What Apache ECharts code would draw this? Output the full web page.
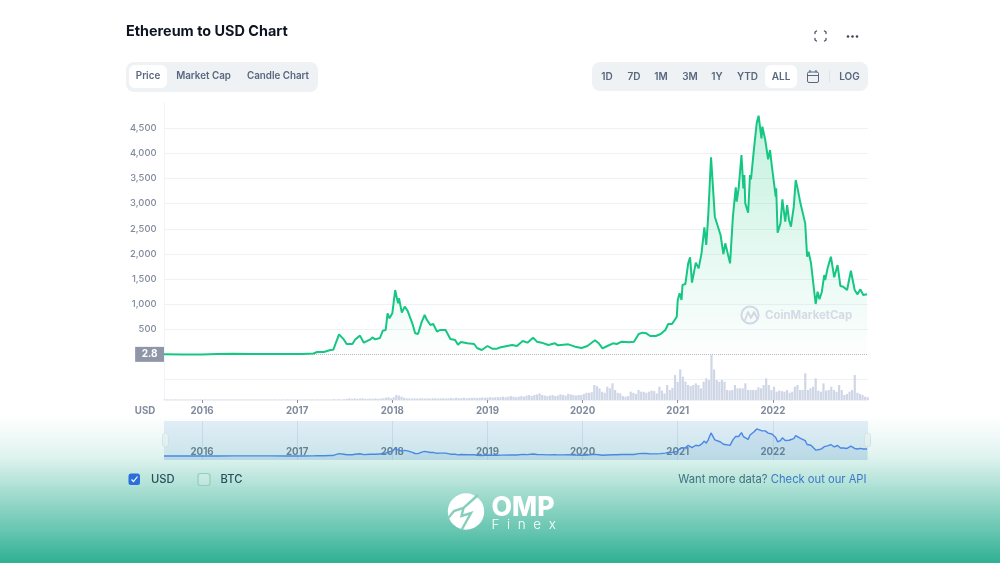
<!DOCTYPE html>
<html>
<head>
<meta charset="utf-8">
<title>Ethereum to USD Chart</title>
<script src="https://cdn.jsdelivr.net/npm/echarts@6/dist/echarts.min.js"></script>
<style>
  html,body{margin:0;padding:0;background:#fff}
  #container{width:1000px;height:563px}
</style>
</head>
<body>
<div id="container"></div>
<script>
// time is kept as decimal years
var yearTicks=[2016,2017,2018,2019,2020,2021,2022];
var priceTicks=[500,1000,1500,2000,2500,3000,3500,4000,4500];
var volumeGridTicks=[38];
var priceTimes=[
    2015.60,2015.80,2016.00,2016.16,2016.33,2016.50,2016.72,2016.90,2017.05,2017.17,
    2017.21,2017.28,2017.35,2017.38,2017.44,2017.49,2017.52,2017.58,2017.61,2017.66,
    2017.70,2017.77,2017.79,2017.82,2017.87,2017.90,2017.93,2017.95,2017.97,2018.00,
    2018.03,2018.06,2018.07,2018.10,2018.13,2018.16,2018.21,2018.24,2018.27,2018.31,
    2018.34,2018.36,2018.40,2018.43,2018.47,2018.50,2018.56,2018.61,2018.66,2018.69,
    2018.72,2018.79,2018.86,2018.89,2018.94,2019.00,2019.05,2019.10,2019.14,2019.26,
    2019.31,2019.37,2019.42,2019.48,2019.52,2019.57,2019.64,2019.71,2019.74,2019.80,
    2019.85,2019.92,2019.99,2020.05,2020.13,2020.17,2020.21,2020.26,2020.32,2020.36,
    2020.41,2020.49,2020.54,2020.59,2020.63,2020.67,2020.71,2020.77,2020.82,2020.87,
    2020.90,2020.94,2020.99,2021.00,2021.02,2021.04,2021.05,2021.08,2021.11,2021.13,
    2021.15,2021.19,2021.22,2021.25,2021.26,2021.28,2021.30,2021.32,2021.35,2021.36,
    2021.39,2021.41,2021.45,2021.48,2021.50,2021.55,2021.58,2021.61,2021.62,2021.64,
    2021.67,2021.69,2021.70,2021.71,2021.74,2021.76,2021.77,2021.80,2021.83,2021.85,
    2021.88,2021.89,2021.92,2021.95,2021.97,2021.99,2022.03,2022.035,2022.05,2022.08,
    2022.10,2022.13,2022.15,2022.17,2022.19,2022.22,2022.24,2022.26,2022.29,2022.31,
    2022.34,2022.36,2022.375,2022.40,2022.42,2022.45,2022.47,2022.49,2022.515,2022.54,
    2022.55,2022.575,2022.59,2022.61,2022.645,2022.68,2022.71,2022.74,2022.78,2022.82,
    2022.86,2022.89,2022.92,2022.95,2022.99
];
var priceValues=[
    2.8,1,1,11,15,12,12,8,10,20,
    50,50,90,95,400,300,210,210,300,375,
    235,300,340,300,328,474,487,818,719,818,
    1282,1017,1117,832,951,872,620,421,408,653,
    785,699,587,606,454,487,487,308,288,195,
    249,222,209,129,90,169,116,116,143,189,
    169,268,235,335,255,235,189,222,182,196,
    202,156,129,169,282,222,123,169,222,209,
    255,242,255,408,434,421,368,368,407,487,
    606,606,752,1083,1216,1083,1381,1401,1812,1932,
    1428,1826,1713,2011,2044,2528,2177,2740,3920,3635,
    2740,2727,2376,1998,2210,1812,2740,3323,3038,3303,
    3966,3303,3568,3005,2820,3568,3482,4065,4596,4748,
    4297,4529,4264,3880,4065,3734,3138,3303,2422,2607,
    3085,2641,2972,2674,2541,2939,3469,3303,3005,2972,
    2607,1945,2044,1826,1865,1004,1249,1097,1249,1580,
    1481,1713,1680,1945,1534,1779,1362,1348,1282,1666,
    1282,1196,1295,1183,1196
];
// one bar every ten days, billions of USD
var volumeStart=2015.605;
var volumeStep=0.02738;
var volumeValues=[
    1,1,1,1,1,1,1,1,1,1, 1,1,1,1,1,1,1,1,1,1,
    1,1,1,1,1,1,1,1,1,1, 1,1,1,1,1,1,1,1,1,1,
    1,1,1,1,1,1,1,1,1,1, 1,1,1,1,1,1,1,1,1,1,
    1,1,1,1,1,1.5,1,1.5,1,1.5,
    2,3,2,3,2,2.5,3,2,2,2.5,2,3,2,2.5,3,4,5,
    3,5,9,8,6,4,
    3,3,2.5,3,2.5,3,3,2.5,3,2.5,3,3,2.5,3,3,2.5,
    3,3.5,3,4,3,3.5,4,3,3.5,4,4,3.5,4,4.5,4,4.5,5,4.5,5,5,
    5,6,5,6,7,6,5,6,
    7,6,8,9,7,9,10,12,9,8,7,
    8,9,7,8,10,9,8,11,10,9,8,9,9,
    11,13,13,14,27,25,21,15,13,24,21,30,18,13,12,
    7,6,7,15,13,11,18,15,15,13,15,17,16,12,24,17,12,27,18,22,
    45,33,55,42,33,27,25,27,30,27,21,33,39,36,
    81,
    55,36,33,36,33,18,17,18,27,21,
    21,21,30,18,18,18,18,23,21,27,
    39,27,18,24,15,17,16,15,18,13,
    15,24,27,18,18,48,18,21,24,39,
    17,15,30,17,18,24,18,15,27,18,
    9,11,15,18,45,13,11,9,6,5
];

var priceData=[];
for(var i=0;i<priceTimes.length;i++)
    priceData.push([priceTimes[i],priceValues[i]]);
var volumeData=[];
for(var j=0;j<volumeValues.length;j++)
    volumeData.push([volumeStart+j*volumeStep,volumeValues[j]]);

var textFont='Inter';
var grey='#808a9d';
var slate='#58667e';
var pillBg='#eff2f5';

function Label(text,x,y,size,weight,color,align)
{
    return {type:'text',x:x,y:y,z:20,style:{text:text,font:weight+' '+size+'px '+textFont,fill:color,align:align||'center',verticalAlign:'middle'}};
}
function Box(x,y,w,h,r,fill,stroke)
{
    return {type:'rect',z:19,shape:{x:x,y:y,width:w,height:h,r:r},style:{fill:fill,stroke:stroke||null}};
}
function Path(points,color,width)
{
    return {type:'polyline',z:20,shape:{points:points},style:{stroke:color,lineWidth:width,fill:null,lineCap:'round',lineJoin:'round'}};
}

var graphics=[
    // toolbar left
    Label('Ethereum to USD Chart',126,32,14.4,700,'#0d1421','left'),
    Box(126,62,192,30,8,pillBg),
    Box(129,65,38,23,6,'#fff'),
    Label('Price',148,76.5,9.8,600,slate),
    Label('Market Cap',203.5,76.5,9.8,600,slate),
    Label('Candle Chart',278,76.5,9.8,600,slate),
    // toolbar right
    Box(592,62,276,29,8,pillBg),
    Box(765,65,32,23,6,'#fff'),
    Label('1D',607,77,10,600,slate),
    Label('7D',634,77,10,600,slate),
    Label('1M',661,77,10,600,slate),
    Label('3M',690,77,10,600,slate),
    Label('1Y',717,77,10,600,slate),
    Label('YTD',747.5,77,10,600,slate),
    Label('ALL',781,77,10,600,slate),
    Label('LOG',849.5,77,10,600,slate),
    Box(807.5,72,11,10.5,1.5,null,slate),
    Path([[807.5,75.5],[818.5,75.5]],slate,1.2),
    Path([[810,70.5],[810,72]],slate,1.2),
    Path([[816,70.5],[816,72]],slate,1.2),
    Path([[829.5,71],[829.5,82]],'#dfe3ea',1),
    // fullscreen and menu icons
    Path([[815,33.5],[815,32],[816.5,31]],'#4a5568',1.3),
    Path([[824.5,31],[826,32],[826,33.5]],'#4a5568',1.3),
    Path([[815,38.5],[815,40],[816.5,41]],'#4a5568',1.3),
    Path([[824.5,41],[826,40],[826,38.5]],'#4a5568',1.3),
    {type:'circle',z:20,shape:{cx:848,cy:36.5,r:1.3},style:{fill:'#3c4657'}},
    {type:'circle',z:20,shape:{cx:852.5,cy:36.5,r:1.3},style:{fill:'#3c4657'}},
    {type:'circle',z:20,shape:{cx:857,cy:36.5,r:1.3},style:{fill:'#3c4657'}},
    // watermark
    {type:'circle',z:20,shape:{cx:750,cy:315,r:8.6},style:{fill:null,stroke:'#d2d8e4',lineWidth:2}},
    Path([[745,320],[748,312],[751,318],[754,312],[757,318]],'#d2d8e4',1.8),
    Label('CoinMarketCap',765,316,11.4,700,'#d5dae5','left'),
    Label('USD',145,411,9.7,700,grey),
    // navigator handles
    Box(162.5,433,6,14,3,'#f4f6f9','#e3e7ee'),
    Box(864.5,433,6,14,3,'#f4f6f9','#e3e7ee'),
    // green wash over the bottom
    {type:'rect',z:30,shape:{x:0,y:415,width:1000,height:148},style:{fill:new echarts.graphic.LinearGradient(0,0,0,1,[
        {offset:0,color:'rgba(46,176,147,0)'},
        {offset:0.27,color:'rgba(46,176,147,0.14)'},
        {offset:0.37,color:'rgba(46,176,147,0.25)'},
        {offset:0.57,color:'rgba(46,176,147,0.49)'},
        {offset:0.8,color:'rgba(46,176,147,0.75)'},
        {offset:1,color:'rgba(46,176,147,1)'}
    ])}},
    // legend row
    {type:'rect',z:31,shape:{x:128.5,y:473.5,width:11.5,height:11.5,r:2.5},style:{fill:'#2a6fdb'}},
    {type:'polyline',z:32,shape:{points:[[131.5,479.5],[133.5,481.5],[137.5,476.5]]},style:{stroke:'#fff',lineWidth:1.2,fill:null}},
    {type:'rect',z:31,shape:{x:198,y:473.5,width:12,height:12,r:2.5},style:{fill:'rgba(255,255,255,0.15)',stroke:'#93cdbd',lineWidth:1.2}},
    {type:'text',z:31,x:151,y:479.5,style:{text:'USD',font:'500 11.2px '+textFont,fill:'#274f5c',align:'left',verticalAlign:'middle'}},
    {type:'text',z:31,x:220.5,y:479.5,style:{text:'BTC',font:'500 11.2px '+textFont,fill:'#274f5c',align:'left',verticalAlign:'middle'}},
    {type:'text',z:31,x:767.5,y:479.5,style:{text:'Want more data?',font:'400 11.2px '+textFont,fill:'#3f7280',align:'right',verticalAlign:'middle'}},
    {type:'text',z:31,x:866.5,y:479.5,style:{text:'Check out our API',font:'400 11.2px '+textFont,fill:'#3a78c9',align:'right',verticalAlign:'middle'}},
    // logo
    {type:'circle',z:31,shape:{cx:466,cy:511.5,r:18.2},style:{fill:'#fff'}},
    {type:'polyline',z:32,shape:{points:[[478,495],[463.5,508],[454,511],[447.5,519]]},style:{stroke:'#86cfba',lineWidth:2.4,fill:null}},
    {type:'polyline',z:32,shape:{points:[[463.5,508],[461.5,516],[471,513],[461.5,530]]},style:{stroke:'#86cfba',lineWidth:2.4,fill:null}},
    {type:'text',z:31,x:491.5,y:507.5,style:{text:'OMP',font:'800 26.6px '+textFont,fill:'#fff',align:'left',verticalAlign:'middle'}},
    {type:'text',z:31,x:491.5,y:525,style:{text:'F  i  n  e  x',font:'300 13.5px '+textFont,fill:'#fff',align:'left',verticalAlign:'middle'}}
];

var myChart=echarts.init(document.getElementById('container'));
myChart.setOption({
    animation:false,
    textStyle:{fontFamily:textFont},
    graphic:graphics,
    grid:[
        {left:164,right:132,top:103,height:251.5},
        {left:164,right:132,top:354.5,height:45.5},
        {left:164,right:132,top:421,height:39,show:true,backgroundColor:'#e5eef9',borderWidth:0}
    ],
    xAxis:[
        {
            gridIndex:0,type:'value',min:2015.6,max:2023,
            axisLine:{show:false},axisTick:{show:false},axisLabel:{show:false},splitLine:{show:false}
        },
        {
            gridIndex:1,type:'value',min:2015.6,max:2023,
            axisLine:{lineStyle:{color:'#eef0f4'}},
            axisTick:{length:3,lineStyle:{color:'#8a93a5'},customValues:yearTicks},
            axisLabel:{customValues:yearTicks,formatter:function(v){return String(v);},color:grey,fontSize:9.7,fontWeight:700,margin:6.5},
            splitLine:{show:false}
        },
        {
            gridIndex:2,type:'value',min:2015.6,max:2023,
            axisLine:{show:false},axisTick:{show:false,customValues:yearTicks},
            axisLabel:{inside:true,customValues:yearTicks,formatter:function(v){return String(v);},color:'#6f7b90',fontSize:9.7,fontWeight:700,margin:3},
            splitLine:{show:true,lineStyle:{color:'rgba(140,160,185,0.22)'}}
        }
    ],
    yAxis:[
        {
            gridIndex:0,type:'value',min:0,max:5000,
            axisLine:{show:true,lineStyle:{color:'#f1f3f6'}},axisTick:{show:false,customValues:priceTicks},
            axisLabel:{customValues:priceTicks,color:grey,fontSize:9.4,fontWeight:500,margin:7.5},
            splitLine:{show:true,lineStyle:{color:'#eff2f5'}}
        },
        {
            gridIndex:1,type:'value',min:0,max:82,
            axisLine:{show:true,lineStyle:{color:'#f1f3f6'}},axisTick:{show:false,customValues:volumeGridTicks},
            axisLabel:{show:false},
            splitLine:{show:true,lineStyle:{color:'#eff2f5'}}
        },
        {
            gridIndex:2,type:'value',min:-680,max:5940,
            axisLine:{show:false},axisTick:{show:false},axisLabel:{show:false},splitLine:{show:false}
        }
    ],
    series:[
        {
            // carries the dotted line under the price line
            name:'Start price',type:'line',xAxisIndex:0,yAxisIndex:0,data:[],z:1,
            markLine:{
                silent:true,symbol:'none',z:1,
                lineStyle:{color:'#b4bac6',type:'dotted',width:1},
                label:{position:'start',formatter:'2.8',distance:0,color:'#fff',fontSize:10,fontWeight:700,backgroundColor:'#8e96a7',padding:[2.5,6.5]},
                data:[{yAxis:2.8}]
            }
        },
        {
            name:'Price',type:'line',xAxisIndex:0,yAxisIndex:0,data:priceData,
            showSymbol:false,smooth:false,clip:false,z:3,
            lineStyle:{color:'#16c784',width:2},
            itemStyle:{color:'#16c784'},
            areaStyle:{color:new echarts.graphic.LinearGradient(0,0,0,1,[
                {offset:0,color:'rgba(22,199,132,0.36)'},
                {offset:1,color:'rgba(22,199,132,0.01)'}
            ])}
        },
        {
            name:'Volume',type:'bar',xAxisIndex:1,yAxisIndex:1,data:volumeData,
            barWidth:2.2,itemStyle:{color:'#cfd6e6'}
        },
        {
            name:'Overview',type:'line',xAxisIndex:2,yAxisIndex:2,data:priceData,
            showSymbol:false,
            lineStyle:{color:'#4e82ee',width:1.4},
            areaStyle:{color:'rgba(80,130,220,0.16)',origin:'start'}
        }
    ]
});
</script>
</body>
</html>
